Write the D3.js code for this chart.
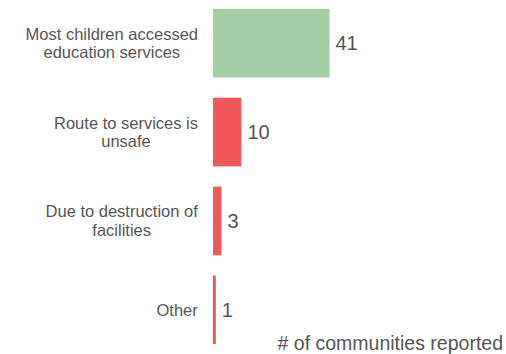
<!DOCTYPE html>
<html><head><meta charset="utf-8">
<script src="https://cdn.jsdelivr.net/npm/d3@7"></script>
<style>body{margin:0;background:#fff}svg{display:block}</style>
</head><body>
<svg id="c" width="506" height="354"></svg>
<script>
const categories = [["Most children accessed","education services"],["Route to services is","unsafe"],["Due to destruction of","facilities"],["Other"]];
const values = [41, 10, 3, 1];
const colors = ["#a3cda3", "#ef575a", "#ef575a", "#ef575a"];
const axisTitle = "# of communities reported";

const FONT = "'Liberation Sans', Arial, sans-serif";
const svg = d3.select("#c");
const x0 = 213;
const x = d3.scaleLinear().domain([0, 41]).range([x0, 329.5]);
const y = d3.scaleBand().domain(d3.range(categories.length)).range([0, 353]).paddingInner(0.228).paddingOuter(0.1);

svg.selectAll("rect.bar").data(values).join("rect")
  .attr("x", x0).attr("y", (d,i)=>y(i))
  .attr("width", d=>x(d)-x0).attr("height", y.bandwidth())
  .attr("fill", (d,i)=>colors[i]);

svg.selectAll("text.val").data(values).join("text")
  .attr("x", d=>x(d)+6).attr("y", (d,i)=>y(i)+y.bandwidth()/2)
  .attr("dy","0.35em")
  .attr("font-family",FONT).attr("font-size",20)
  .attr("fill","#555").text(d=>d);

const labelRight = 198;
categories.forEach((lines,i)=>{
  const cy = y(i)+y.bandwidth()/2;
  const n = lines.length, lh = 18.5;
  const g = svg.append("g");
  const t = g.append("text").attr("text-anchor","middle")
    .attr("font-family",FONT).attr("font-size",16.5).attr("fill","#555");
  t.selectAll("tspan").data(lines).join("tspan")
    .attr("x",0).attr("y",(l,j)=>cy + (j-(n-1)/2)*lh).attr("dy","0.35em").text(l=>l);
  const w = t.node().getBBox().width;
  g.attr("transform",`translate(${labelRight - w/2},0)`);
});

svg.append("text").attr("x",503).attr("y",350).attr("text-anchor","end")
  .attr("font-family",FONT).attr("font-size",19.5)
  .attr("fill","#555").text(axisTitle);
</script>
</body></html>
